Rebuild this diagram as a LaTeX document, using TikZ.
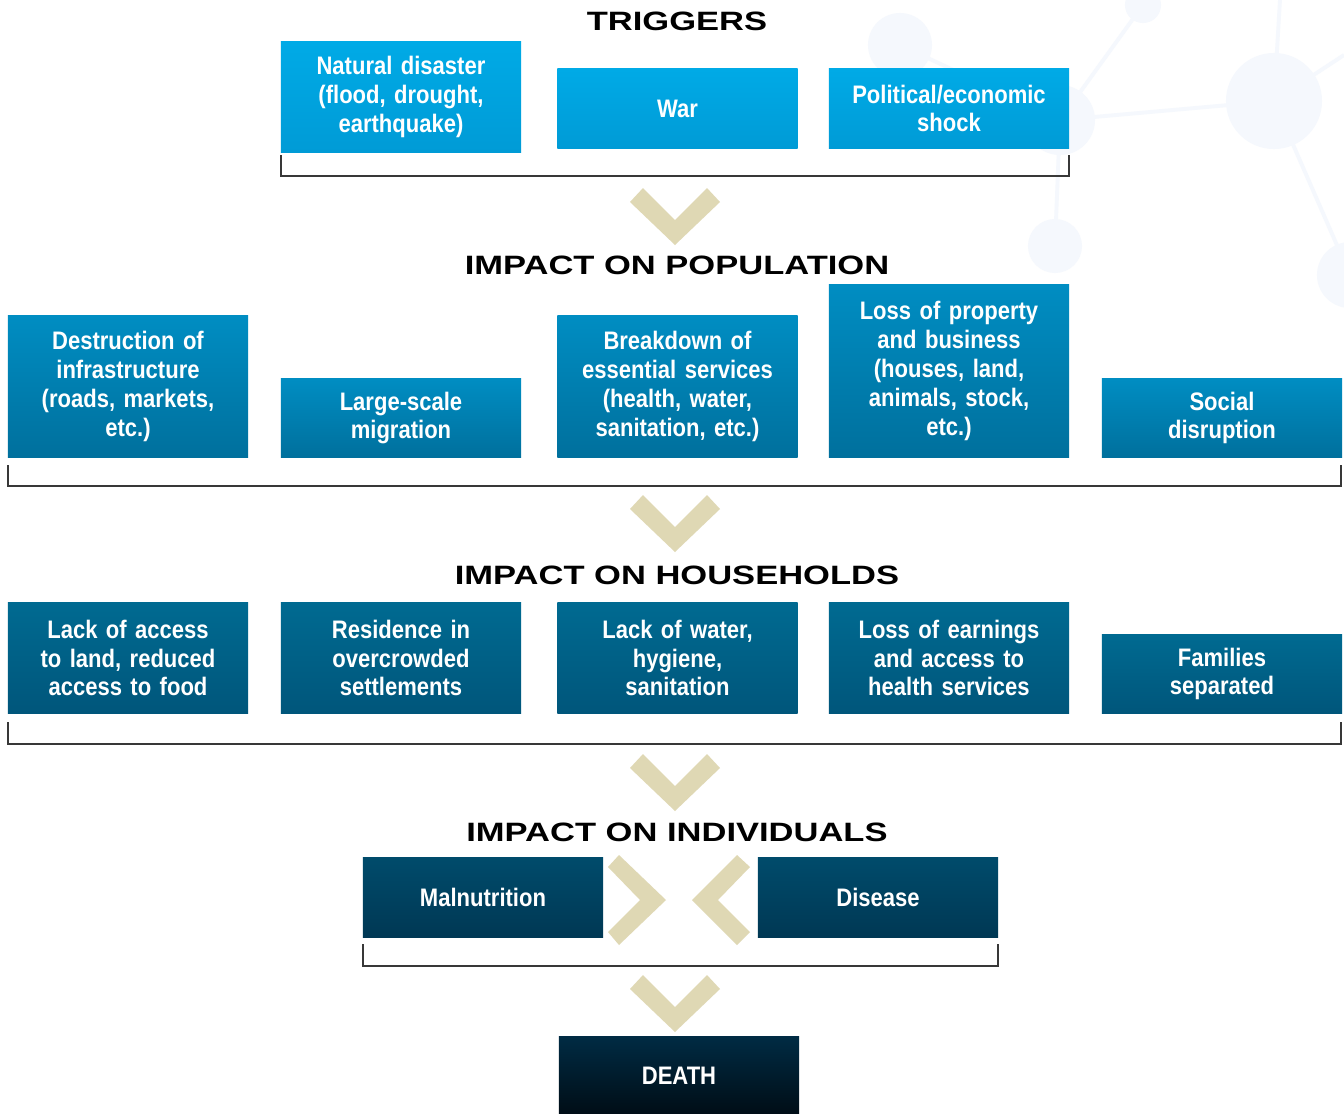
\documentclass[tikz,border=0pt]{standalone}
\usepackage{fontspec}
\newfontfamily\boxfont[FakeStretch=0.87]{Liberation Sans}
\newfontfamily\headfont[FakeStretch=1.3]{Liberation Sans}
\definecolor{TierOneTop}{HTML}{00AAE6}
\definecolor{TierOneBot}{HTML}{009BD6}
\definecolor{TierTwoTop}{HTML}{008DC2}
\definecolor{TierTwoBot}{HTML}{00709D}
\definecolor{TierThreeTop}{HTML}{006A91}
\definecolor{TierThreeBot}{HTML}{00567B}
\definecolor{TierFourTop}{HTML}{004B6B}
\definecolor{TierFourBot}{HTML}{003854}
\definecolor{DeathTop}{HTML}{002B43}
\definecolor{DeathBot}{HTML}{000D16}
\definecolor{ChevronTan}{HTML}{DFD8B4}
\definecolor{NetBlue}{HTML}{F5F8FD}
\definecolor{BracketGray}{HTML}{383838}

\begin{document}
\begin{tikzpicture}[x=0.01cm,y=-0.01cm,line join=miter,
  box/.style={text=white,align=center,text width=2.2cm,minimum width=2.4cm,inner sep=0pt,
    font=\boxfont\bfseries\fontsize{7.2}{8.2}\selectfont},
  tierone/.style={box,top color=TierOneTop,bottom color=TierOneBot},
  tiertwo/.style={box,top color=TierTwoTop,bottom color=TierTwoBot},
  tierthree/.style={box,top color=TierThreeTop,bottom color=TierThreeBot},
  tierfour/.style={box,top color=TierFourTop,bottom color=TierFourBot},
  deathbox/.style={box,top color=DeathTop,bottom color=DeathBot},
  heading/.style={font=\headfont\bfseries\fontsize{7.55}{9}\selectfont},
  bracket/.style={draw=BracketGray,line width=0.6pt},
  chev/.style={fill=ChevronTan}]
  \fill[white] (0,0) rectangle (1344,1114);
  \useasboundingbox (0,0) rectangle (1344,1114);
  % faint network in the corner
  \coordinate (n1) at (1143,5);\coordinate (n2) at (1060,120);\coordinate (n3) at (1274,101);
  \coordinate (n4) at (1055,246);\coordinate (n5) at (1350,275);\coordinate (n6) at (900,45);
  \begin{scope}[draw=NetBlue,line width=1.1pt]
    \draw (n1)--(n2)--(n3)--(1280,0);
    \draw (n3)--(1344,55);\draw (n3)--(n5);\draw (n2)--(n4);\draw (n6)--(n2);
  \end{scope}
  \foreach \P/\r in {n1/0.18,n2/0.35,n3/0.48,n4/0.27,n5/0.33,n6/0.32}{\fill[NetBlue] (\P) circle[radius=\r cm];}
  % triggers
  \node[heading] (trig) at (677,21) {TRIGGERS};
  \node[tierone,minimum height=1.10cm] (nat) at (401,97) {Natural disaster\\(flood, drought,\\earthquake)};
  \node[tierone,minimum height=0.79cm] (war) at (677.5,108.5) {War};
  \node[tierone,minimum height=0.79cm] (pol) at (949,108.5) {Political/economic\\shock};
  \draw[bracket] (281,155) |- (1069,176) -- (1069,155);
  % population
  \node[heading] (pop) at (677,265) {IMPACT ON POPULATION};
  \node[tiertwo,minimum height=1.41cm] (des) at (128,386.5) {Destruction of\\infrastructure\\(roads, markets,\\etc.)};
  \node[tiertwo,minimum height=0.78cm] (mig) at (401,418) {Large-scale\\migration};
  \node[tiertwo,minimum height=1.41cm] (brk) at (677.5,386.5) {Breakdown of\\essential services\\(health, water,\\sanitation, etc.)};
  \node[tiertwo,minimum height=1.72cm] (los) at (949,371) {Loss of property\\and business\\(houses, land,\\animals, stock,\\etc.)};
  \node[tiertwo,minimum height=0.78cm] (soc) at (1222,418) {Social\\disruption};
  \draw[bracket] (8,465) |- (1341,486) -- (1341,465);
  % households
  \node[heading] (hh) at (677,575) {IMPACT ON HOUSEHOLDS};
  \node[tierthree,minimum height=1.10cm] (lac) at (128,658) {Lack of access\\to land, reduced\\access to food};
  \node[tierthree,minimum height=1.10cm] (res) at (401,658) {Residence in\\overcrowded\\settlements};
  \node[tierthree,minimum height=1.10cm] (wat) at (677.5,658) {Lack of water,\\hygiene,\\sanitation};
  \node[tierthree,minimum height=1.10cm] (ear) at (949,658) {Loss of earnings\\and access to\\health services};
  \node[tierthree,minimum height=0.78cm] (fam) at (1222,674) {Families\\separated};
  \draw[bracket] (8,722) |- (1341,744) -- (1341,722);
  % individuals
  \node[heading] (ind) at (677,832) {IMPACT ON INDIVIDUALS};
  \node[tierfour,minimum height=0.79cm] (mal) at (483,897.5) {Malnutrition};
  \node[tierfour,minimum height=0.79cm] (dis) at (878,897.5) {Disease};
  \fill[chev] (619,855) -- (666,900) -- (619,945) -- (608,932) -- (640,900) -- (608,867) -- cycle;
  \fill[chev] (737,855) -- (750,867) -- (718,900) -- (750,932) -- (737,945) -- (692,900) -- cycle;
  \draw[bracket] (363,944) |- (998,966) -- (998,944);
  \node[deathbox,minimum height=0.77cm] (death) at (679,1075.5) {DEATH};
  % down chevrons between tiers
  \foreach \t in {188,495,754,975}{
    \fill[chev] (643,\t) -- ++(32,32) -- ++(32,-32) -- ++(13,14) -- ++(-45,43) -- ++(-45,-43) -- cycle;}
\end{tikzpicture}
\end{document}
